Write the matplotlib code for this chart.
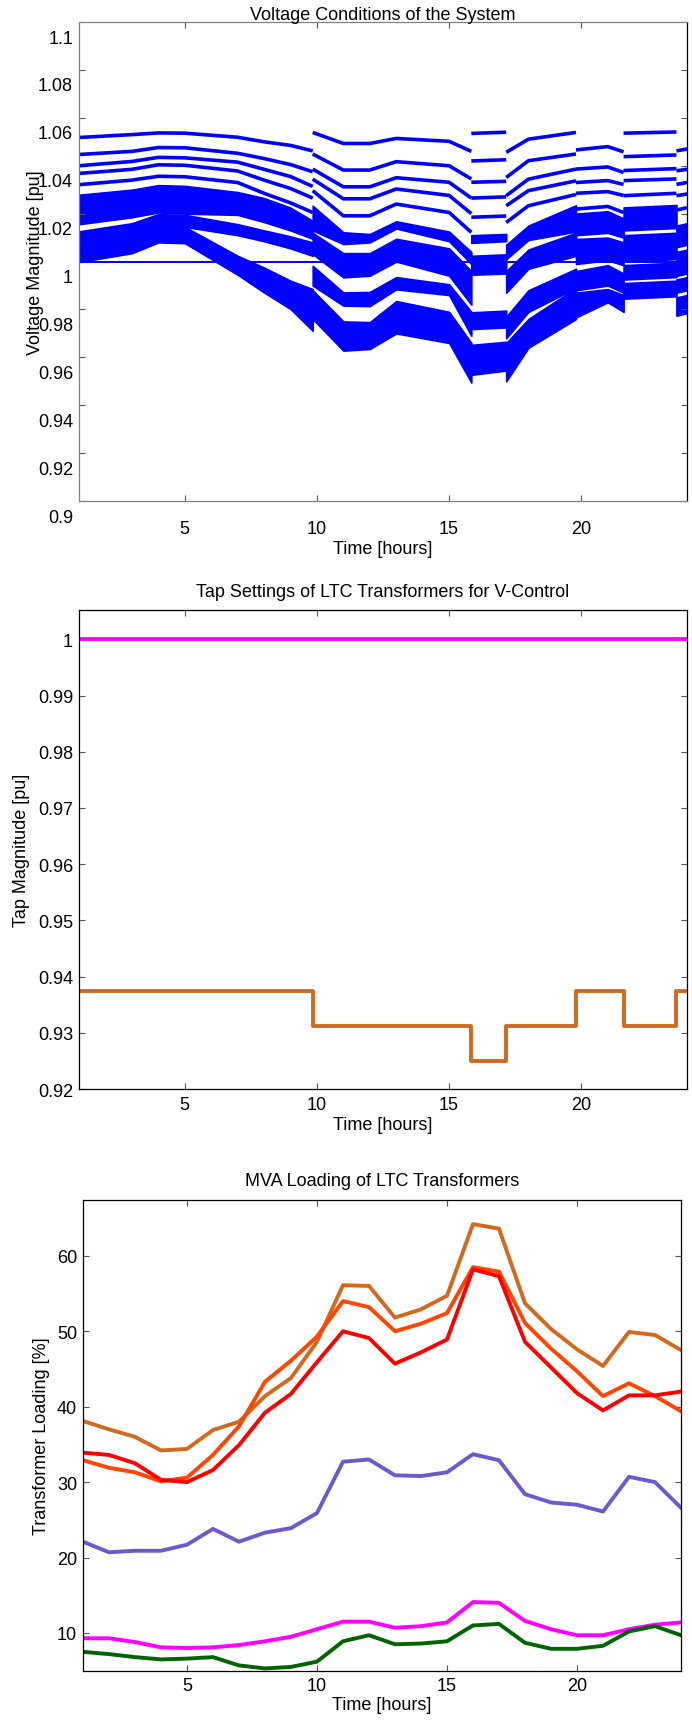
import numpy as np
import matplotlib
matplotlib.use('Agg')
import matplotlib.pyplot as plt
from matplotlib.transforms import ScaledTranslation
from matplotlib.ticker import FormatStrFormatter

plt.rcParams['font.family'] = ['Liberation Sans', 'DejaVu Sans']
plt.rcParams['font.size'] = 13

### DATA ###

hours = np.arange(1, 25)

# bus voltages, anchor times (repeated time = tap change -> new segment)
v_t = [1, 3, 4, 5, 7, 8, 9, 9.84,
       9.84, 11, 12, 13, 15, 15.84,
       15.84, 17.16,
       17.16, 18, 19.8,
       19.8, 21, 21.6,
       21.6, 23.6,
       23.6, 24]

# single bus lines
v_line1 = [1.0518, 1.0530, 1.0537, 1.0536, 1.0519, 1.0500, 1.0485, 1.0462,
           1.0539, 1.0493, 1.0493, 1.0514, 1.0502, 1.0460,
           1.0535, 1.0540,
           1.0456, 1.0511, 1.0539,
           1.0466, 1.0480, 1.0458,
           1.0536, 1.0541,
           1.0462, 1.0470]
v_line2 = [1.0447, 1.0460, 1.0476, 1.0475, 1.0452, 1.0430, 1.0405, 1.0375,
           1.0449, 1.0382, 1.0382, 1.0417, 1.0400, 1.0345,
           1.0420, 1.0425,
           1.0351, 1.0421, 1.0449,
           1.0386, 1.0395, 1.0372,
           1.0438, 1.0445,
           1.0379, 1.0385]
v_line3 = [1.0400, 1.0418, 1.0435, 1.0433, 1.0415, 1.0385, 1.0355, 1.0314,
           1.0386, 1.0312, 1.0312, 1.0350, 1.0331, 1.0265,
           1.0331, 1.0335,
           1.0275, 1.0344, 1.0386,
           1.0330, 1.0338, 1.0322,
           1.0380, 1.0388,
           1.0322, 1.0330]
v_line4 = [1.0368, 1.0385, 1.0404, 1.0402, 1.0378, 1.0340, 1.0305, 1.0265,
           1.0344, 1.0262, 1.0262, 1.0303, 1.0276, 1.0200,
           1.0265, 1.0270,
           1.0233, 1.0296, 1.0337,
           1.0285, 1.0292, 1.0276,
           1.0338, 1.0345,
           1.0275, 1.0282]
v_line5 = [1.0321, 1.0340, 1.0356, 1.0354, 1.0330, 1.0285, 1.0245, 1.0205,
           1.0296, 1.0191, 1.0191, 1.0240, 1.0205, 1.0122,
           1.0185, 1.0190,
           1.0163, 1.0233, 1.0280,
           1.0219, 1.0230, 1.0205,
           1.0275, 1.0285,
           1.0215, 1.0225]

# groups of many buses (upper / lower envelope)
v_band1_hi = [1.0279, 1.0300, 1.0319, 1.0316, 1.0290, 1.0265, 1.0225, 1.0170,
              1.0233, 1.0122, 1.0115, 1.0168, 1.0125, 1.0040,
              1.0110, 1.0115,
              1.0070, 1.0150, 1.0235,
              1.0200, 1.0210, 1.0180,
              1.0226, 1.0236,
              1.0150, 1.0160]
v_band1_lo = [1.0156, 1.0185, 1.0205, 1.0200, 1.0195, 1.0165, 1.0130, 1.0095,
              1.0130, 1.0073, 1.0080, 1.0138, 1.0085, 0.9990,
              1.0078, 1.0085,
              1.0010, 1.0090, 1.0125,
              1.0110, 1.0120, 1.0100,
              1.0130, 1.0140,
              1.0060, 1.0070]
v_band2_hi = [1.0126, 1.0160, 1.0198, 1.0195, 1.0156, 1.0130, 1.0105, 1.0080,
              1.0120, 1.0035, 1.0035, 1.0095, 1.0055, 0.9960,
              1.0024, 1.0030,
              0.9960, 1.0050, 1.0120,
              1.0094, 1.0100, 1.0080,
              1.0110, 1.0120,
              1.0040, 1.0050]
v_band2_lo = [1.0080, 1.0115, 1.0150, 1.0145, 1.0110, 1.0085, 1.0055, 1.0024,
              1.0031, 0.9934, 0.9941, 1.0000, 0.9941, 0.9820,
              0.9945, 0.9950,
              0.9870, 0.9970, 1.0024,
              0.9990, 1.0005, 0.9985,
              1.0000, 1.0010,
              0.9940, 0.9950]
v_band3_hi = [1.0080, 1.0115, 1.0150, 1.0145, 1.0024, 0.9975, 0.9920, 0.9885,
              0.9982, 0.9871, 0.9873, 0.9935, 0.9905, 0.9790,
              0.9788, 0.9795,
              0.9770, 0.9880, 0.9970,
              0.9960, 0.9985, 0.9950,
              0.9985, 0.9995,
              0.9925, 0.9935]
v_band3_lo = [1.0040, 1.0075, 1.0110, 1.0105, 0.9985, 0.9925, 0.9860, 0.9800,
              0.9900, 0.9816, 0.9814, 0.9884, 0.9860, 0.9690,
              0.9718, 0.9725,
              0.9680, 0.9790, 0.9890,
              0.9880, 0.9900, 0.9870,
              0.9925, 0.9935,
              0.9870, 0.9880]
v_band4_hi = [1.0040, 1.0075, 1.0110, 1.0105, 0.9985, 0.9925, 0.9860, 0.9800,
              0.9880, 0.9750, 0.9747, 0.9835, 0.9790, 0.9660,
              0.9652, 0.9665,
              0.9660, 0.9760, 0.9890,
              0.9870, 0.9885, 0.9860,
              0.9910, 0.9920,
              0.9850, 0.9860]
v_band4_lo = [0.9998, 1.0035, 1.0080, 1.0077, 0.9945, 0.9871, 0.9802, 0.9711,
              0.9760, 0.9628, 0.9635, 0.9700, 0.9660, 0.9495,
              0.9527, 0.9545,
              0.9500, 0.9640, 0.9760,
              0.9767, 0.9830, 0.9790,
              0.9845, 0.9855,
              0.9774, 0.9785]
v_slack = 1.0

v_lines = [v_line1, v_line2, v_line3, v_line4, v_line5]
v_bands = [(v_band1_hi, v_band1_lo), (v_band2_hi, v_band2_lo),
           (v_band3_hi, v_band3_lo), (v_band4_hi, v_band4_lo)]

# LTC tap positions (change times)
tap_t = [1, 9.84, 15.84, 17.16, 19.8, 21.6, 23.6, 24]
tap_ltc1 = [1.0, 1.0, 1.0, 1.0, 1.0, 1.0, 1.0, 1.0]
tap_ltc2 = [0.9375, 0.93125, 0.925, 0.93125, 0.9375, 0.93125, 0.9375, 0.9375]

# MVA loading [%]
load_chocolate = [38.1, 37.0, 36.0, 34.2, 34.4, 36.9, 38.0, 41.4, 43.8, 48.6, 56.1, 56.0,
                  51.8, 52.9, 54.7, 64.2, 63.6, 53.7, 50.3, 47.6, 45.4, 49.9, 49.5, 47.5]
load_orangered = [32.9, 31.9, 31.3, 30.1, 30.6, 33.6, 37.4, 43.3, 46.1, 49.3, 54.0, 53.2,
                  50.0, 51.0, 52.4, 58.5, 57.9, 51.1, 47.7, 44.7, 41.4, 43.1, 41.4, 39.4]
load_red = [33.9, 33.6, 32.5, 30.3, 30.0, 31.6, 34.9, 39.2, 41.7, 45.9, 50.0, 49.1,
            45.7, 47.2, 48.9, 58.2, 57.3, 48.6, 45.2, 41.8, 39.5, 41.5, 41.5, 42.0]
load_slateblue = [22.1, 20.7, 20.9, 20.9, 21.7, 23.8, 22.1, 23.3, 23.9, 25.9, 32.7, 33.0,
                  30.9, 30.8, 31.3, 33.7, 32.9, 28.4, 27.3, 27.0, 26.1, 30.7, 30.0, 26.6]
load_magenta = [9.3, 9.3, 8.8, 8.1, 8.0, 8.1, 8.4, 8.9, 9.5, 10.5, 11.5, 11.5,
                10.7, 10.9, 11.4, 14.1, 14.0, 11.6, 10.5, 9.7, 9.7, 10.5, 11.1, 11.4]
load_green = [7.5, 7.2, 6.8, 6.5, 6.6, 6.8, 5.7, 5.3, 5.5, 6.2, 8.9, 9.7,
              8.5, 8.6, 8.9, 11.0, 11.2, 8.7, 7.9, 7.9, 8.3, 10.2, 10.9, 9.7]

load_series = [load_chocolate, load_orangered, load_red, load_slateblue, load_magenta, load_green]
load_colors = ['#D2691E', '#FF4500', '#FF0000', '#6A5ACD', '#FF00FF', '#006400']

x_ticks = [5, 10, 15, 20]
v_ticks = [0.9, 0.92, 0.94, 0.96, 0.98, 1.0, 1.02, 1.04, 1.06, 1.08, 1.1]
tap_ticks = [0.92, 0.93, 0.94, 0.95, 0.96, 0.97, 0.98, 0.99, 1.0]
load_ticks = [10, 20, 30, 40, 50, 60]


def matlab_style(ax, edge, xpad, ypad):
    for s in ax.spines.values():
        s.set_color(edge)
        s.set_linewidth(0.9)
    ax.tick_params(direction='in', length=4, width=0.8, color='#555555',
                   top=True, right=True, labelsize=13)
    ax.tick_params(axis='x', pad=xpad)
    ax.tick_params(axis='y', pad=ypad)
    ax.set_xlim(1, 24)
    ax.set_xticks(x_ticks)
    ax.yaxis.set_major_formatter(FormatStrFormatter('%g'))


fig = plt.figure(figsize=(6.92, 17.33), dpi=100)

# --- voltages ---
ax1 = fig.add_axes([0.1142, 0.7103, 0.8786, 0.2764])
vt = np.array(v_t)
cuts = np.where(np.diff(vt) == 0)[0] + 1
segs = np.split(np.arange(len(vt)), cuts)
for idx in segs:
    for hi, lo in v_bands:
        ax1.fill_between(vt[idx], np.array(lo)[idx], np.array(hi)[idx],
                         facecolor='blue', edgecolor='blue', linewidth=1.2)
    for ln in v_lines:
        ax1.plot(vt[idx], np.array(ln)[idx], color='blue', linewidth=2.6,
                 solid_capstyle='butt')
ax1.plot([1, 24], [v_slack, v_slack], color='blue', linewidth=1.4)
matlab_style(ax1, '#808080', 13.8, 4.3)
ax1.spines['right'].set_color('black')
ax1.set_ylim(0.9, 1.1)
ax1.set_yticks(v_ticks)
ax1.set_title('Voltage Conditions of the System', fontsize=13, pad=2)
ax1.set_xlabel('Time [hours]', fontsize=13, labelpad=2)
ax1.set_ylabel('Voltage Magnitude [pu]', fontsize=13, va='center')
ax1.yaxis.set_label_coords(-0.072, 0.5)
shift = ScaledTranslation(0, -14 / 100, fig.dpi_scale_trans)
for lab in ax1.get_yticklabels():
    lab.set_transform(lab.get_transform() + shift)

# --- tap settings ---
ax2 = fig.add_axes([0.1142, 0.3710, 0.8786, 0.2764])
ax2.plot(tap_t, tap_ltc1, color='#FF00FF', linewidth=2.8, drawstyle='steps-post')
ax2.plot(tap_t, tap_ltc2, color='#D2691E', linewidth=2.8, drawstyle='steps-post')
matlab_style(ax2, 'black', 5, 4.3)
ax2.set_ylim(0.92, 1.0052)
ax2.set_yticks(tap_ticks)
ax2.set_title('Tap Settings of LTC Transformers for V-Control', fontsize=13, pad=10)
ax2.set_xlabel('Time [hours]', fontsize=13, labelpad=2)
ax2.set_ylabel('Tap Magnitude [pu]', fontsize=13, va='center')
ax2.yaxis.set_label_coords(-0.094, 0.5)

# --- MVA loading ---
ax3 = fig.add_axes([0.1199, 0.0352, 0.8642, 0.2718])
for vals, col in zip(load_series, load_colors):
    ax3.plot(hours, vals, color=col, linewidth=2.8)
matlab_style(ax3, 'black', 4.5, 4.3)
ax3.set_ylim(4.96, 67.4)
ax3.set_yticks(load_ticks)
ax3.set_title('MVA Loading of LTC Transformers', fontsize=13, pad=10.8)
ax3.set_xlabel('Time [hours]', fontsize=13, labelpad=1.2)
ax3.set_ylabel('Transformer Loading [%]', fontsize=13, va='center')
ax3.yaxis.set_label_coords(-0.0686, 0.5)

plt.savefig('out.png', dpi=100)
